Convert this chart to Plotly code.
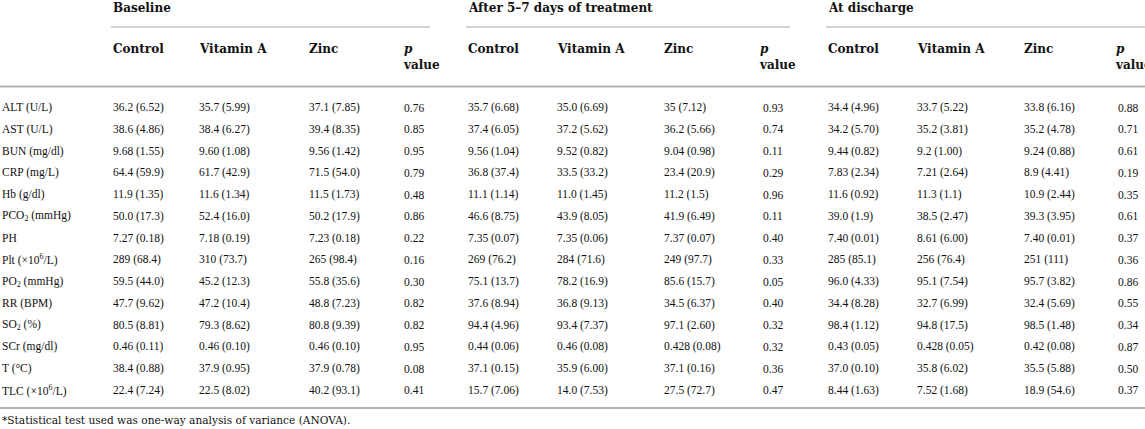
import plotly.graph_objects as go

# ---- table data (mean (SD) per cell) ----
params = ["ALT (U/L)", "AST (U/L)", "BUN (mg/dl)", "CRP (mg/L)", "Hb (g/dl)",
          "PCO<sub>2</sub> (mmHg)", "PH", "Plt (×10<sup>6</sup>/L)", "PO<sub>2</sub> (mmHg)",
          "RR (BPM)", "SO<sub>2</sub> (%)", "SCr (mg/dl)", "T (°C)", "TLC (×10<sup>6</sup>/L)"]

groups = ["Baseline", "After 5–7 days of treatment", "At discharge"]
subcols = ["Control", "Vitamin A", "Zinc", "<i>p</i><br>value"]

base_control = ["36.2 (6.52)", "38.6 (4.86)", "9.68 (1.55)", "64.4 (59.9)", "11.9 (1.35)", "50.0 (17.3)", "7.27 (0.18)",
                "289 (68.4)", "59.5 (44.0)", "47.7 (9.62)", "80.5 (8.81)", "0.46 (0.11)", "38.4 (0.88)", "22.4 (7.24)"]
base_vita = ["35.7 (5.99)", "38.4 (6.27)", "9.60 (1.08)", "61.7 (42.9)", "11.6 (1.34)", "52.4 (16.0)", "7.18 (0.19)",
             "310 (73.7)", "45.2 (12.3)", "47.2 (10.4)", "79.3 (8.62)", "0.46 (0.10)", "37.9 (0.95)", "22.5 (8.02)"]
base_zinc = ["37.1 (7.85)", "39.4 (8.35)", "9.56 (1.42)", "71.5 (54.0)", "11.5 (1.73)", "50.2 (17.9)", "7.23 (0.18)",
             "265 (98.4)", "55.8 (35.6)", "48.8 (7.23)", "80.8 (9.39)", "0.46 (0.10)", "37.9 (0.78)", "40.2 (93.1)"]
base_p = ["0.76", "0.85", "0.95", "0.79", "0.48", "0.86", "0.22", "0.16", "0.30", "0.82", "0.82", "0.95", "0.08", "0.41"]

after_control = ["35.7 (6.68)", "37.4 (6.05)", "9.56 (1.04)", "36.8 (37.4)", "11.1 (1.14)", "46.6 (8.75)", "7.35 (0.07)",
                 "269 (76.2)", "75.1 (13.7)", "37.6 (8.94)", "94.4 (4.96)", "0.44 (0.06)", "37.1 (0.15)", "15.7 (7.06)"]
after_vita = ["35.0 (6.69)", "37.2 (5.62)", "9.52 (0.82)", "33.5 (33.2)", "11.0 (1.45)", "43.9 (8.05)", "7.35 (0.06)",
              "284 (71.6)", "78.2 (16.9)", "36.8 (9.13)", "93.4 (7.37)", "0.46 (0.08)", "35.9 (6.00)", "14.0 (7.53)"]
after_zinc = ["35 (7.12)", "36.2 (5.66)", "9.04 (0.98)", "23.4 (20.9)", "11.2 (1.5)", "41.9 (6.49)", "7.37 (0.07)",
              "249 (97.7)", "85.6 (15.7)", "34.5 (6.37)", "97.1 (2.60)", "0.428 (0.08)", "37.1 (0.16)", "27.5 (72.7)"]
after_p = ["0.93", "0.74", "0.11", "0.29", "0.96", "0.11", "0.40", "0.33", "0.05", "0.40", "0.32", "0.32", "0.36", "0.47"]

disch_control = ["34.4 (4.96)", "34.2 (5.70)", "9.44 (0.82)", "7.83 (2.34)", "11.6 (0.92)", "39.0 (1.9)", "7.40 (0.01)",
                 "285 (85.1)", "96.0 (4.33)", "34.4 (8.28)", "98.4 (1.12)", "0.43 (0.05)", "37.0 (0.10)", "8.44 (1.63)"]
disch_vita = ["33.7 (5.22)", "35.2 (3.81)", "9.2 (1.00)", "7.21 (2.64)", "11.3 (1.1)", "38.5 (2.47)", "8.61 (6.00)",
              "256 (76.4)", "95.1 (7.54)", "32.7 (6.99)", "94.8 (17.5)", "0.428 (0.05)", "35.8 (6.02)", "7.52 (1.68)"]
disch_zinc = ["33.8 (6.16)", "35.2 (4.78)", "9.24 (0.88)", "8.9 (4.41)", "10.9 (2.44)", "39.3 (3.95)", "7.40 (0.01)",
              "251 (111)", "95.7 (3.82)", "32.4 (5.69)", "98.5 (1.48)", "0.42 (0.08)", "35.5 (5.88)", "18.9 (54.6)"]
disch_p = ["0.88", "0.71", "0.61", "0.19", "0.35", "0.61", "0.37", "0.36", "0.86", "0.55", "0.34", "0.87", "0.50", "0.37"]

footnote = "*Statistical test used was one-way analysis of variance (ANOVA)."

blocks = [
    [base_control, base_vita, base_zinc, base_p],
    [after_control, after_vita, after_zinc, after_p],
    [disch_control, disch_vita, disch_zinc, disch_p],
]

# ---- layout (pixel space) ----
W, H = 1145, 429
col_left = [[111, 197, 307, 401], [466, 555, 662, 757], [826, 915, 1022, 1113]]
p_center = [414, 773, 1128]
group_line_end = [430, 790, 1145]
row_y0, row_step = 107.5, 21.75
ink = "#111111"
body_font = dict(family="Liberation Serif", size=11.5, color=ink)
head_font = dict(family="DejaVu Serif", size=12, color=ink)

fig = go.Figure()
ann = []

for g, name in enumerate(groups):
    x0 = col_left[g][0]
    ann.append(dict(x=x0, y=8, text="<b>%s</b>" % name, xanchor="left", yanchor="middle",
                    font=head_font, showarrow=False))
    fig.add_shape(type="line", x0=x0, x1=group_line_end[g], y0=27, y1=27,
                  line=dict(color="#c4c4c4", width=1.3))
    for c, sub in enumerate(subcols):
        if c < 3:
            ann.append(dict(x=col_left[g][c], y=49, text="<b>%s</b>" % sub, xanchor="left", yanchor="middle",
                            font=head_font, showarrow=False))
        else:
            ann.append(dict(x=col_left[g][c], y=57, text="<b>%s</b>" % sub, xanchor="left", yanchor="middle",
                            align="left", font=head_font, showarrow=False))

    for c, col in enumerate(blocks[g]):
        for i, txt in enumerate(col):
            y = row_y0 + i * row_step
            if c < 3:
                ann.append(dict(x=col_left[g][c], y=y, text=txt, xanchor="left", yanchor="middle",
                                font=body_font, showarrow=False))
            else:
                ann.append(dict(x=p_center[g], y=y, text=txt, xanchor="center", yanchor="middle",
                                font=body_font, showarrow=False))

for i, name in enumerate(params):
    ann.append(dict(x=0, y=row_y0 + i * row_step, text=name, xanchor="left", yanchor="middle",
                    font=body_font, showarrow=False))

ann.append(dict(x=0, y=419.5, text=footnote, xanchor="left", yanchor="middle",
                font=dict(family="DejaVu Serif", size=10.6, color=ink), showarrow=False))

fig.add_shape(type="line", x0=0, x1=W, y0=86.5, y1=86.5, line=dict(color="#b4b4b4", width=2))
fig.add_shape(type="line", x0=0, x1=W, y0=408, y1=408, line=dict(color="#b4b4b4", width=2))

fig.update_layout(
    width=W, height=H,
    margin=dict(l=0, r=0, t=0, b=0),
    paper_bgcolor="white", plot_bgcolor="white",
    xaxis=dict(range=[0, W], visible=False, fixedrange=True),
    yaxis=dict(range=[H, 0], visible=False, fixedrange=True),
    annotations=ann,
    showlegend=False,
)

# drop the default page margin so the figure sits at the window's top-left corner
fig.write_html("out.html", config={"displayModeBar": False},
               post_script="document.body.style.margin='0';document.body.style.overflow='hidden';")
